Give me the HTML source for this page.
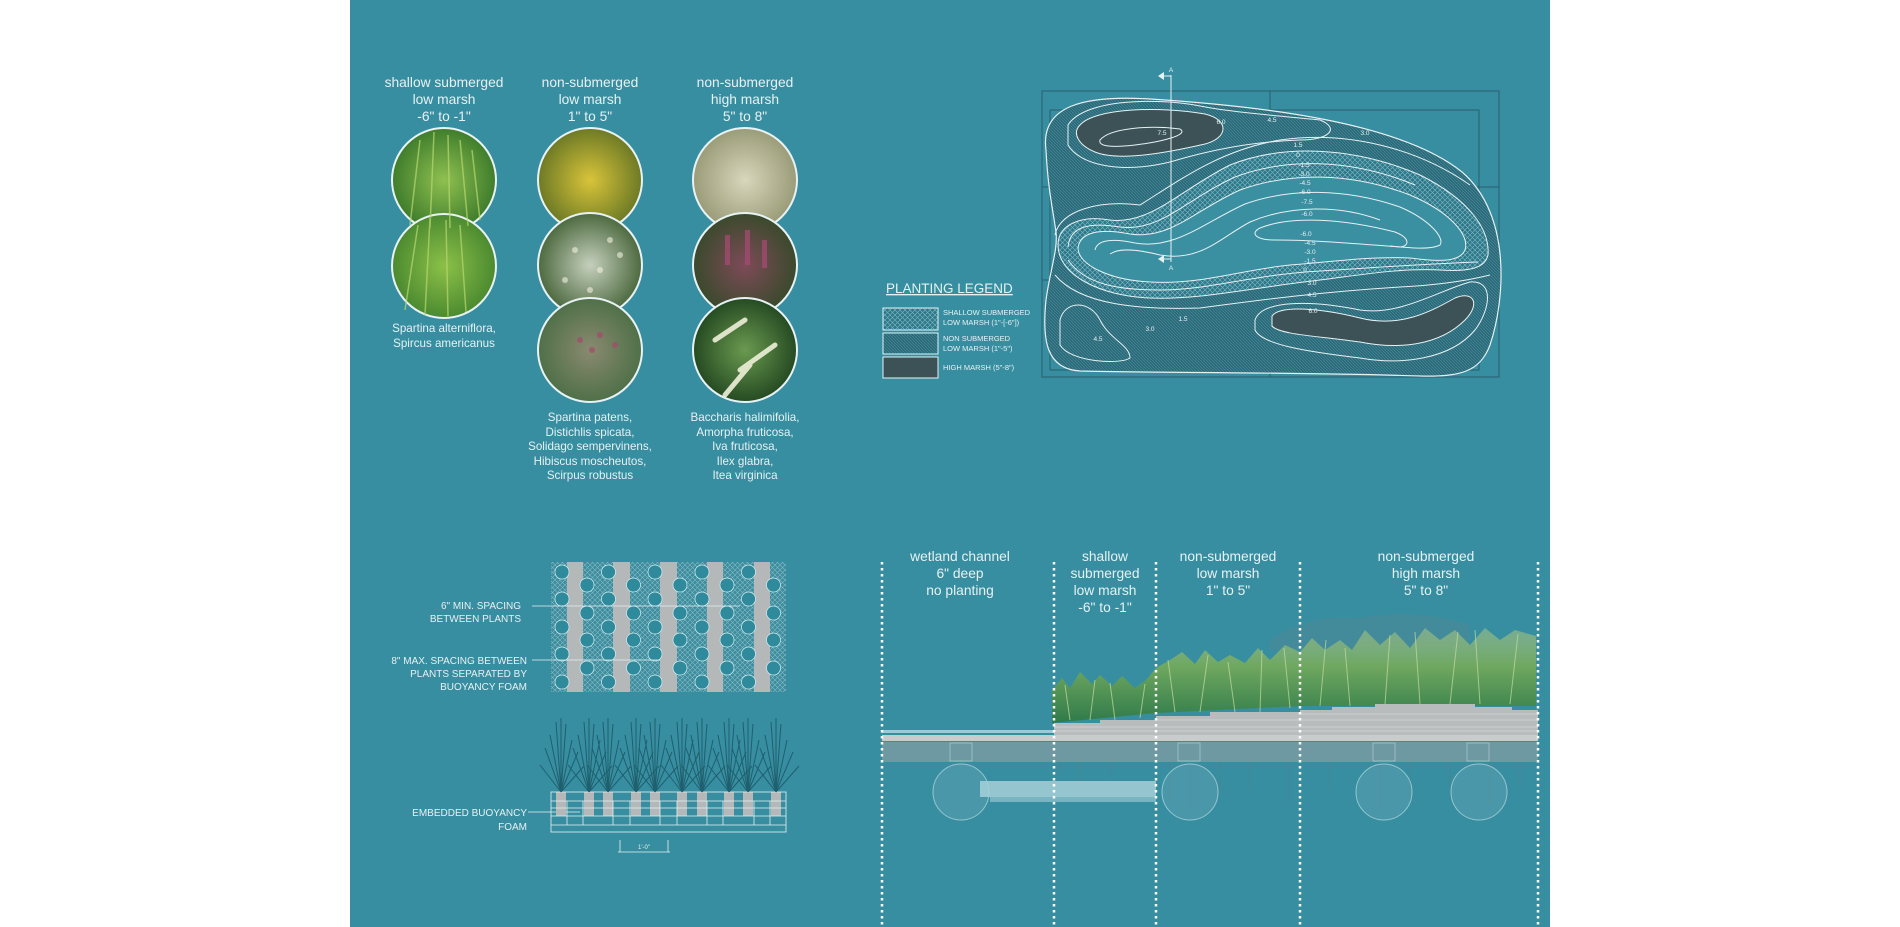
<!DOCTYPE html>
<html><head><meta charset="utf-8"><style>
html,body{margin:0;padding:0;background:#fff;}
svg{display:block;}
text{font-family:"Liberation Sans",sans-serif;fill:#e6f1f3;}
</style></head><body>
<svg width="1900" height="927" viewBox="0 0 1900 927" xmlns="http://www.w3.org/2000/svg">
<defs>
<pattern id="hx" width="5" height="5" patternUnits="userSpaceOnUse">
<rect width="5" height="5" fill="#2f7585"/><path d="M0 0L5 5M5 0L0 5" stroke="#6fb3c2" stroke-width="0.7"/></pattern>
<pattern id="hd" width="3" height="3" patternUnits="userSpaceOnUse">
<rect width="3" height="3" fill="#2c6a79"/><path d="M0 0L3 3" stroke="#4a8f9f" stroke-width="0.6"/></pattern>
<pattern id="hg" width="5" height="5" patternUnits="userSpaceOnUse">
<rect width="5" height="5" fill="#3f8c9c"/><path d="M0 0L5 5M5 0L0 5" stroke="#7fbcc8" stroke-width="0.6"/></pattern>
<linearGradient id="gr" x1="0" y1="0" x2="0" y2="1"><stop offset="0" stop-color="#9fc08a" stop-opacity="0.6"/><stop offset="0.4" stop-color="#6fa860"/><stop offset="1" stop-color="#2f7a4a"/></linearGradient>
<radialGradient id="p1"><stop offset="0" stop-color="#8fc050"/><stop offset="1" stop-color="#3f7d2c"/></radialGradient>
<radialGradient id="p2"><stop offset="0" stop-color="#8cc048"/><stop offset="1" stop-color="#4b8a30"/></radialGradient>
<radialGradient id="p3"><stop offset="0" stop-color="#d9c43a"/><stop offset="1" stop-color="#6d7a25"/></radialGradient>
<radialGradient id="p4"><stop offset="0" stop-color="#c6d0bd"/><stop offset="1" stop-color="#4d6a40"/></radialGradient>
<radialGradient id="p5"><stop offset="0" stop-color="#8a8a70"/><stop offset="1" stop-color="#4f7048"/></radialGradient>
<radialGradient id="p6"><stop offset="0" stop-color="#d8d6bc"/><stop offset="1" stop-color="#9a9c78"/></radialGradient>
<radialGradient id="p7"><stop offset="0" stop-color="#7e4a58"/><stop offset="1" stop-color="#3a4a2c"/></radialGradient>
<radialGradient id="p8"><stop offset="0" stop-color="#6a9a50"/><stop offset="1" stop-color="#254a22"/></radialGradient>
</defs>
<rect x="350" y="0" width="1200" height="927" fill="#378ea0"/>

<!-- column titles -->
<g font-size="13.8" text-anchor="middle">
<text x="444" y="87">shallow submerged</text><text x="444" y="104">low marsh</text><text x="444" y="121">-6" to -1"</text>
<text x="590" y="87">non-submerged</text><text x="590" y="104">low marsh</text><text x="590" y="121">1" to 5"</text>
<text x="745" y="87">non-submerged</text><text x="745" y="104">high marsh</text><text x="745" y="121">5" to 8"</text>
</g>
<!-- photo circles -->
<g stroke="#e8f2f4" stroke-width="2">
<circle cx="444" cy="180" r="52" fill="url(#p1)"/>
<circle cx="444" cy="266" r="52" fill="url(#p2)"/>
<circle cx="590" cy="180" r="52" fill="url(#p3)"/>
<circle cx="590" cy="265" r="52" fill="url(#p4)"/>
<circle cx="590" cy="350" r="52" fill="url(#p5)"/>
<circle cx="745" cy="180" r="52" fill="url(#p6)"/>
<circle cx="745" cy="265" r="52" fill="url(#p7)"/>
<circle cx="745" cy="350" r="52" fill="url(#p8)"/>
</g>
<g stroke="#b8d870" stroke-width="1.5" opacity="0.7">
<path d="M410 225L420 140M430 228L434 132M450 228L448 135M468 226L460 140M480 220L472 150"/>
<path d="M405 310L418 225M425 315L430 218M448 316L446 220M466 312L460 225"/></g>
<g fill="#f0f0e0" opacity="0.6"><circle cx="575" cy="250" r="3"/><circle cx="600" cy="270" r="3"/><circle cx="620" cy="255" r="3"/><circle cx="565" cy="280" r="3"/><circle cx="590" cy="290" r="3"/><circle cx="610" cy="240" r="3"/></g>
<g fill="#a0506a" opacity="0.8"><circle cx="580" cy="340" r="3"/><circle cx="600" cy="335" r="3"/><circle cx="615" cy="345" r="3"/><circle cx="592" cy="350" r="3"/></g>
<g fill="#a04a70" opacity="0.8"><rect x="725" y="235" width="5" height="30"/><rect x="745" y="230" width="5" height="35"/><rect x="762" y="240" width="5" height="28"/></g>
<g stroke="#eef0d8" stroke-width="5" stroke-linecap="round" opacity="0.9"><path d="M715 340L745 320M740 370L775 345M725 395L750 365"/></g>
<g font-size="11.6" text-anchor="middle">
<text x="444" y="332">Spartina alterniflora,</text><text x="444" y="347">Spircus americanus</text>
<text x="590" y="421">Spartina patens,</text><text x="590" y="436">Distichlis spicata,</text><text x="590" y="450">Solidago sempervinens,</text><text x="590" y="465">Hibiscus moscheutos,</text><text x="590" y="479">Scirpus robustus</text>
<text x="745" y="421">Baccharis halimifolia,</text><text x="745" y="436">Amorpha fruticosa,</text><text x="745" y="450">Iva fruticosa,</text><text x="745" y="465">Ilex glabra,</text><text x="745" y="479">Itea virginica</text>
</g>

<!-- map -->
<g fill="none" stroke="#2a5f6c" stroke-width="1">
<rect x="1042" y="91" width="457" height="286"/>
<rect x="1050" y="110" width="429" height="260"/>
<line x1="1270" y1="91" x2="1270" y2="377"/>
<line x1="1042" y1="187" x2="1499" y2="187"/>
<line x1="1042" y1="280" x2="1499" y2="280"/>
</g>
<path d="M1046 150C1040 105 1085 95 1150 99C1260 106 1400 122 1462 172C1512 215 1505 300 1490 345C1480 372 1460 377 1420 376C1300 372 1150 373 1080 371C1046 369 1042 340 1046 300C1050 270 1058 250 1056 232C1053 210 1048 190 1046 150Z" fill="url(#hd)" stroke="#e6f1f3" stroke-width="1.2"/>
<path d="M1058 245C1058 225 1080 215 1110 220C1150 225 1180 190 1230 165C1280 145 1350 145 1420 175C1470 200 1490 230 1488 255C1485 268 1470 272 1440 270C1400 268 1360 275 1320 280C1250 288 1200 300 1150 298C1100 296 1058 275 1058 245Z" fill="url(#hx)" stroke="#e6f1f3"/>
<path d="M1078 248C1080 232 1100 228 1130 234C1170 240 1195 210 1240 190C1290 172 1350 172 1410 195C1450 212 1470 235 1465 250C1460 262 1440 262 1410 258C1370 256 1330 262 1290 265C1240 270 1200 285 1150 282C1110 280 1078 265 1078 248Z" fill="#3a8fa1" stroke="#e6f1f3"/>
<g fill="none" stroke="#e6f1f3" stroke-width="1">
<path d="M1095 250C1097 240 1112 238 1135 243C1175 250 1205 222 1245 204C1290 188 1345 188 1400 207C1430 220 1445 238 1440 245C1430 250 1410 248 1390 246"/>
<path d="M1110 254C1120 247 1140 250 1160 255C1200 262 1220 238 1250 222C1290 205 1340 205 1380 220"/>
<path d="M1260 228C1290 216 1340 218 1395 232C1410 238 1410 246 1400 247C1370 245 1320 240 1275 240C1255 240 1250 233 1260 228Z"/>
<path d="M1068 247C1070 226 1090 222 1120 227C1160 232 1185 200 1235 177C1285 158 1350 158 1415 185"/>
<path d="M1068 260C1085 285 1120 290 1160 290C1210 290 1250 275 1320 271C1370 268 1420 264 1478 262"/>
<path d="M1055 235C1060 210 1100 200 1140 205C1180 180 1220 150 1280 140C1350 130 1420 150 1470 185"/>
<path d="M1055 275C1080 305 1140 310 1200 308C1260 300 1320 292 1400 287C1440 285 1470 280 1490 275"/>
</g>
<path d="M1080 125C1095 108 1160 106 1205 114C1230 120 1228 138 1205 144C1170 152 1120 162 1095 152C1078 145 1072 133 1080 125Z" fill="#3d5257" stroke="#e6f1f3"/>
<path d="M1100 140C1110 128 1150 125 1180 129C1190 135 1160 142 1135 145C1110 148 1098 146 1100 140Z" fill="none" stroke="#e6f1f3"/>
<path d="M1068 125C1085 98 1160 98 1200 106C1230 112 1280 116 1320 120C1340 128 1330 140 1300 140C1250 142 1210 150 1170 162C1120 174 1080 165 1068 145Z" fill="none" stroke="#e6f1f3"/>
<path d="M1272 316C1280 305 1320 308 1360 318C1400 328 1430 312 1455 298C1475 290 1480 305 1465 320C1440 345 1400 350 1360 342C1320 336 1280 335 1272 326Z" fill="#3d5257" stroke="#e6f1f3"/>
<path d="M1255 320C1262 300 1310 300 1360 310C1400 316 1440 290 1470 282C1495 280 1490 310 1475 330C1450 360 1400 365 1360 358C1310 352 1262 345 1255 330Z" fill="none" stroke="#e6f1f3"/>
<path d="M1060 320C1065 300 1090 300 1100 320C1110 340 1130 345 1130 358C1120 365 1070 362 1060 345Z" fill="none" stroke="#e6f1f3"/>
<g stroke="#e6f1f3" fill="none" stroke-width="1"><line x1="1171" y1="75" x2="1171" y2="262"/><path d="M1171 76L1160 76M1171 259L1160 259"/></g>
<g fill="#e6f1f3"><path d="M1158 76l6 -4v8z"/><path d="M1158 259l6 -4v8z"/></g>
<g font-size="6.5" text-anchor="middle">
<text x="1171" y="72">A</text><text x="1171" y="270">A</text>
<text x="1162" y="135">7.5</text><text x="1221" y="124">6.0</text><text x="1272" y="122">4.5</text><text x="1365" y="135">3.0</text>
<text x="1298" y="147">1.5</text><text x="1298" y="157">0</text><text x="1304" y="167">-1.5</text><text x="1304" y="176">-3.0</text><text x="1305" y="185">-4.5</text><text x="1305" y="194">-6.0</text><text x="1307" y="204">-7.5</text><text x="1307" y="216">-6.0</text>
<text x="1306" y="236">-6.0</text><text x="1310" y="245">-4.5</text><text x="1310" y="254">-3.0</text><text x="1310" y="263">-1.5</text><text x="1305" y="272">0</text><text x="1312" y="285">3.0</text><text x="1312" y="297">4.5</text><text x="1313" y="313">6.0</text>
<text x="1183" y="321">1.5</text><text x="1150" y="331">3.0</text><text x="1098" y="341">4.5</text></g>
<text x="886" y="293" font-size="13.5" text-decoration="underline">PLANTING LEGEND</text>
<rect x="883" y="308" width="55" height="22" fill="url(#hx)" stroke="#e6f1f3"/>
<rect x="883" y="333" width="55" height="21" fill="url(#hd)" stroke="#e6f1f3"/>
<rect x="883" y="357" width="55" height="21" fill="#3d5257" stroke="#e6f1f3"/>
<g font-size="7.5"><text x="943" y="315">SHALLOW SUBMERGED</text><text x="943" y="325">LOW MARSH (1"-[-6"])</text>
<text x="943" y="341">NON SUBMERGED</text><text x="943" y="351">LOW MARSH (1"-5")</text><text x="943" y="370">HIGH MARSH (5"-8")</text></g>

<!-- plant grid -->
<rect x="551" y="562" width="235" height="130" fill="url(#hg)"/>
<g fill="#b4b8b9"><rect x="567" y="562" width="16" height="130"/><rect x="613" y="562" width="17" height="130"/><rect x="660" y="562" width="17" height="130"/><rect x="707" y="562" width="16" height="130"/><rect x="754" y="562" width="16" height="130"/></g>
<g fill="#2f8a9c" stroke="#d8eef2" stroke-width="0.7">
<g id="ca"><circle cx="562" cy="572" r="7"/><circle cx="562" cy="599" r="7"/><circle cx="562" cy="627" r="7"/><circle cx="562" cy="654" r="7"/><circle cx="562" cy="682" r="7"/>
<circle cx="587" cy="585" r="7"/><circle cx="587" cy="613" r="7"/><circle cx="587" cy="640" r="7"/><circle cx="587" cy="668" r="7"/></g>
<use href="#ca" x="46.5"/><use href="#ca" x="93"/><use href="#ca" x="140"/><use href="#ca" x="186.5"/></g>
<g stroke="#e6f1f3" stroke-width="0.8"><line x1="532" y1="606" x2="740" y2="606"/><line x1="532" y1="660" x2="660" y2="660"/></g>
<g font-size="10" text-anchor="end"><text x="521" y="609">6" MIN. SPACING</text><text x="521" y="622">BETWEEN PLANTS</text>
<text x="527" y="664">8" MAX. SPACING BETWEEN</text><text x="527" y="677">PLANTS SEPARATED BY</text><text x="527" y="690">BUOYANCY FOAM</text>
<text x="527" y="816">EMBEDDED BUOYANCY</text><text x="527" y="830">FOAM</text></g>
<line x1="528" y1="812" x2="580" y2="812" stroke="#e6f1f3" stroke-width="0.8"/>
<!-- foam section -->
<g fill="#b4b8b9"><rect x="556" y="792" width="10" height="24"/><rect x="584" y="792" width="10" height="24"/><rect x="603" y="792" width="10" height="24"/><rect x="631" y="792" width="10" height="24"/><rect x="650" y="792" width="10" height="24"/><rect x="677" y="792" width="10" height="24"/><rect x="697" y="792" width="10" height="24"/><rect x="724" y="792" width="10" height="24"/><rect x="743" y="792" width="10" height="24"/><rect x="771" y="792" width="10" height="24"/></g>
<g fill="none" stroke="#e6f1f3" stroke-width="0.8"><rect x="551" y="792" width="235" height="40"/><line x1="551" y1="816" x2="786" y2="816"/><line x1="551" y1="825" x2="786" y2="825"/><line x1="551" y1="801" x2="786" y2="801"/><line x1="551" y1="808" x2="786" y2="808"/>
<path d="M567 801V825M583 801V825M613 801V825M630 801V825M660 801V825M677 801V825M707 801V825M723 801V825M754 801V825M770 801V825"/>
<path d="M620 840V852M668 840V852M618 852H670"/></g>
<text x="644" y="849" font-size="6" text-anchor="middle">1'-0"</text>
<g stroke="#1f5f6e" stroke-width="1" fill="none" id="tuft">
<path d="M561 792L545 748M561 792L550 735M561 792L556 722M561 792L561 718M561 792L566 724M561 792L572 740M561 792L578 752M561 792L540 765M561 792L584 766"/></g>
<use href="#tuft" x="28"/><use href="#tuft" x="47"/><use href="#tuft" x="75"/><use href="#tuft" x="94"/><use href="#tuft" x="121"/><use href="#tuft" x="141"/><use href="#tuft" x="168"/><use href="#tuft" x="187"/><use href="#tuft" x="215"/>

<!-- section -->
<g font-size="13.8" text-anchor="middle">
<text x="960" y="561">wetland channel</text><text x="960" y="578">6" deep</text><text x="960" y="595">no planting</text>
<text x="1105" y="561">shallow</text><text x="1105" y="578">submerged</text><text x="1105" y="595">low marsh</text><text x="1105" y="612">-6" to -1"</text>
<text x="1228" y="561">non-submerged</text><text x="1228" y="578">low marsh</text><text x="1228" y="595">1" to 5"</text>
<text x="1426" y="561">non-submerged</text><text x="1426" y="578">high marsh</text><text x="1426" y="595">5" to 8"</text></g>
<!-- grass -->
<path d="M1270 640C1300 620 1330 615 1360 618C1400 610 1440 615 1470 625L1470 650L1270 650Z" fill="#4f8794" opacity="0.5"/>
<path d="M1052 723L1052 690L1062 678L1070 688L1080 672L1092 684L1100 675L1112 686L1122 676L1135 688L1146 680L1156 668L1170 660L1182 652L1195 664L1205 650L1218 662L1230 655L1245 663L1258 648L1270 660L1285 645L1300 652L1312 638L1325 650L1340 640L1352 650L1365 630L1380 645L1395 632L1410 648L1425 628L1440 640L1455 630L1470 645L1485 628L1500 640L1515 630L1536 636L1536 706L1300 706L1156 713L1052 723Z" fill="url(#gr)"/>
<g stroke="#c8dca0" stroke-width="1" opacity="0.7" fill="none">
<path d="M1070 720L1065 685M1090 720L1095 680M1115 720L1110 683M1140 718L1145 684M1175 712L1168 660M1200 712L1208 655M1235 712L1228 662M1260 712L1262 650M1290 708L1284 648M1320 706L1326 640M1350 706L1345 648M1385 704L1390 635M1420 704L1415 632M1450 704L1458 632M1480 704L1475 630M1510 704L1518 634"/></g>
<!-- soil -->
<g fill="#b8bcbd">
<rect x="1054" y="723" width="102" height="12"/><rect x="1100" y="720" width="56" height="4"/>
<rect x="1156" y="716" width="144" height="19"/><rect x="1210" y="712" width="90" height="5"/>
<rect x="1300" y="710" width="238" height="25"/><rect x="1332" y="707" width="180" height="4"/><rect x="1375" y="704" width="100" height="4"/></g>
<g stroke="#d4d8d9" stroke-width="0.8"><path d="M1054 727H1538M1054 731H1538M1156 720H1538M1300 714H1538"/></g>
<rect x="882" y="730" width="172" height="3" fill="#9ccbd6"/>
<rect x="882" y="735" width="656" height="6" fill="#c8cccd"/>
<rect x="882" y="742" width="656" height="20" fill="#6e99a2"/>
<g fill="none" stroke="#a9c3c8" stroke-width="0.8"><rect x="950" y="743" width="22" height="18"/><rect x="1178" y="743" width="22" height="18"/><rect x="1373" y="743" width="22" height="18"/><rect x="1467" y="743" width="22" height="18"/></g>
<g stroke="#5d7f7a" stroke-width="0.7" opacity="0.6"><path d="M1060 762V775M1080 762V785M1110 762V778M1170 762V800M1190 762V810M1220 762V795M1250 762V790M1290 762V805M1330 762V790M1380 762V808M1410 762V795M1450 762V800M1490 762V805M1520 762V790"/></g>
<g fill="#8fc0cb" fill-opacity="0.2" stroke="#b8dbe2" stroke-width="1" stroke-opacity="0.7"><circle cx="961" cy="792" r="28"/><circle cx="1190" cy="792" r="28"/><circle cx="1384" cy="792" r="28"/><circle cx="1479" cy="792" r="28"/></g>
<rect x="980" y="781" width="176" height="16" fill="#a6d0d8" opacity="0.85"/><rect x="990" y="797" width="166" height="5" fill="#78b5c2"/>
<!-- dotted lines -->
<g stroke="#ffffff" stroke-width="2.5" stroke-dasharray="2.5 3.5"><line x1="882" y1="562" x2="882" y2="927"/><line x1="1054" y1="562" x2="1054" y2="927"/><line x1="1156" y1="562" x2="1156" y2="927"/><line x1="1300" y1="562" x2="1300" y2="927"/><line x1="1538" y1="562" x2="1538" y2="927"/></g>
</svg>
</body></html>
